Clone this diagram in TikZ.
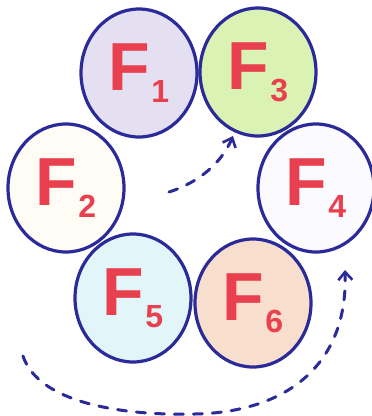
\documentclass[tikz,border=0pt]{standalone}
\usepackage{fontspec}
\setmainfont{Liberation Sans}
\usetikzlibrary{shapes.geometric,arrows.meta}
\definecolor{ink}{HTML}{2B2A99}
\definecolor{redtxt}{HTML}{E8404F}
\definecolor{cA}{HTML}{E4E0F2}
\definecolor{cB}{HTML}{FFFCF6}
\definecolor{cC}{HTML}{DAF2B4}
\definecolor{cD}{HTML}{FBFBFF}
\definecolor{cE}{HTML}{E2F5F8}
\definecolor{cF}{HTML}{F8DECC}
\newcommand{\flab}[1]{\fontsize{68}{68}\selectfont\bfseries F\kern1pt\raisebox{-12pt}{\fontsize{32}{32}\selectfont #1}}
\tikzset{
  ball/.style={ellipse, draw=ink, line width=3.2pt, minimum width=116pt, minimum height=128pt, inner sep=0pt, text=redtxt},
  dashlink/.style={draw=ink, line width=3pt, dash pattern=on 9pt off 10pt, line cap=round, -{Straight Barb[length=8pt,width=14pt,line width=2.6pt]}}
}
\begin{document}
\begin{tikzpicture}[x=1pt,y=-1pt]
\useasboundingbox (0,0) rectangle (372,416);
\node[ball, fill=cA] (F1) at (139,73) {\flab{1}};
\node[ball, fill=cC] (F3) at (258,72) {\flab{3}};
\node[ball, fill=cB] (F2) at (66,188) {\flab{2}};
\node[ball, fill=cD] (F4) at (316,188) {\flab{4}};
\node[ball, fill=cE] (F5) at (133,298) {\flab{5}};
\node[ball, fill=cF] (F6) at (253,303) {\flab{6}};
\coordinate (s1) at (169,192);
\coordinate (e1) at (233,136);
\coordinate (s2) at (23,356);
\coordinate (m2) at (195,414);
\coordinate (e2) at (345,270);
\draw[dashlink] (s1) .. controls (200,182) and (222,162) .. (e1);
\draw[dashlink] (s2) .. controls (38,402) and (120,416) .. (m2) .. controls (290,412) and (348,362) .. (e2);
\end{tikzpicture}
\end{document}
